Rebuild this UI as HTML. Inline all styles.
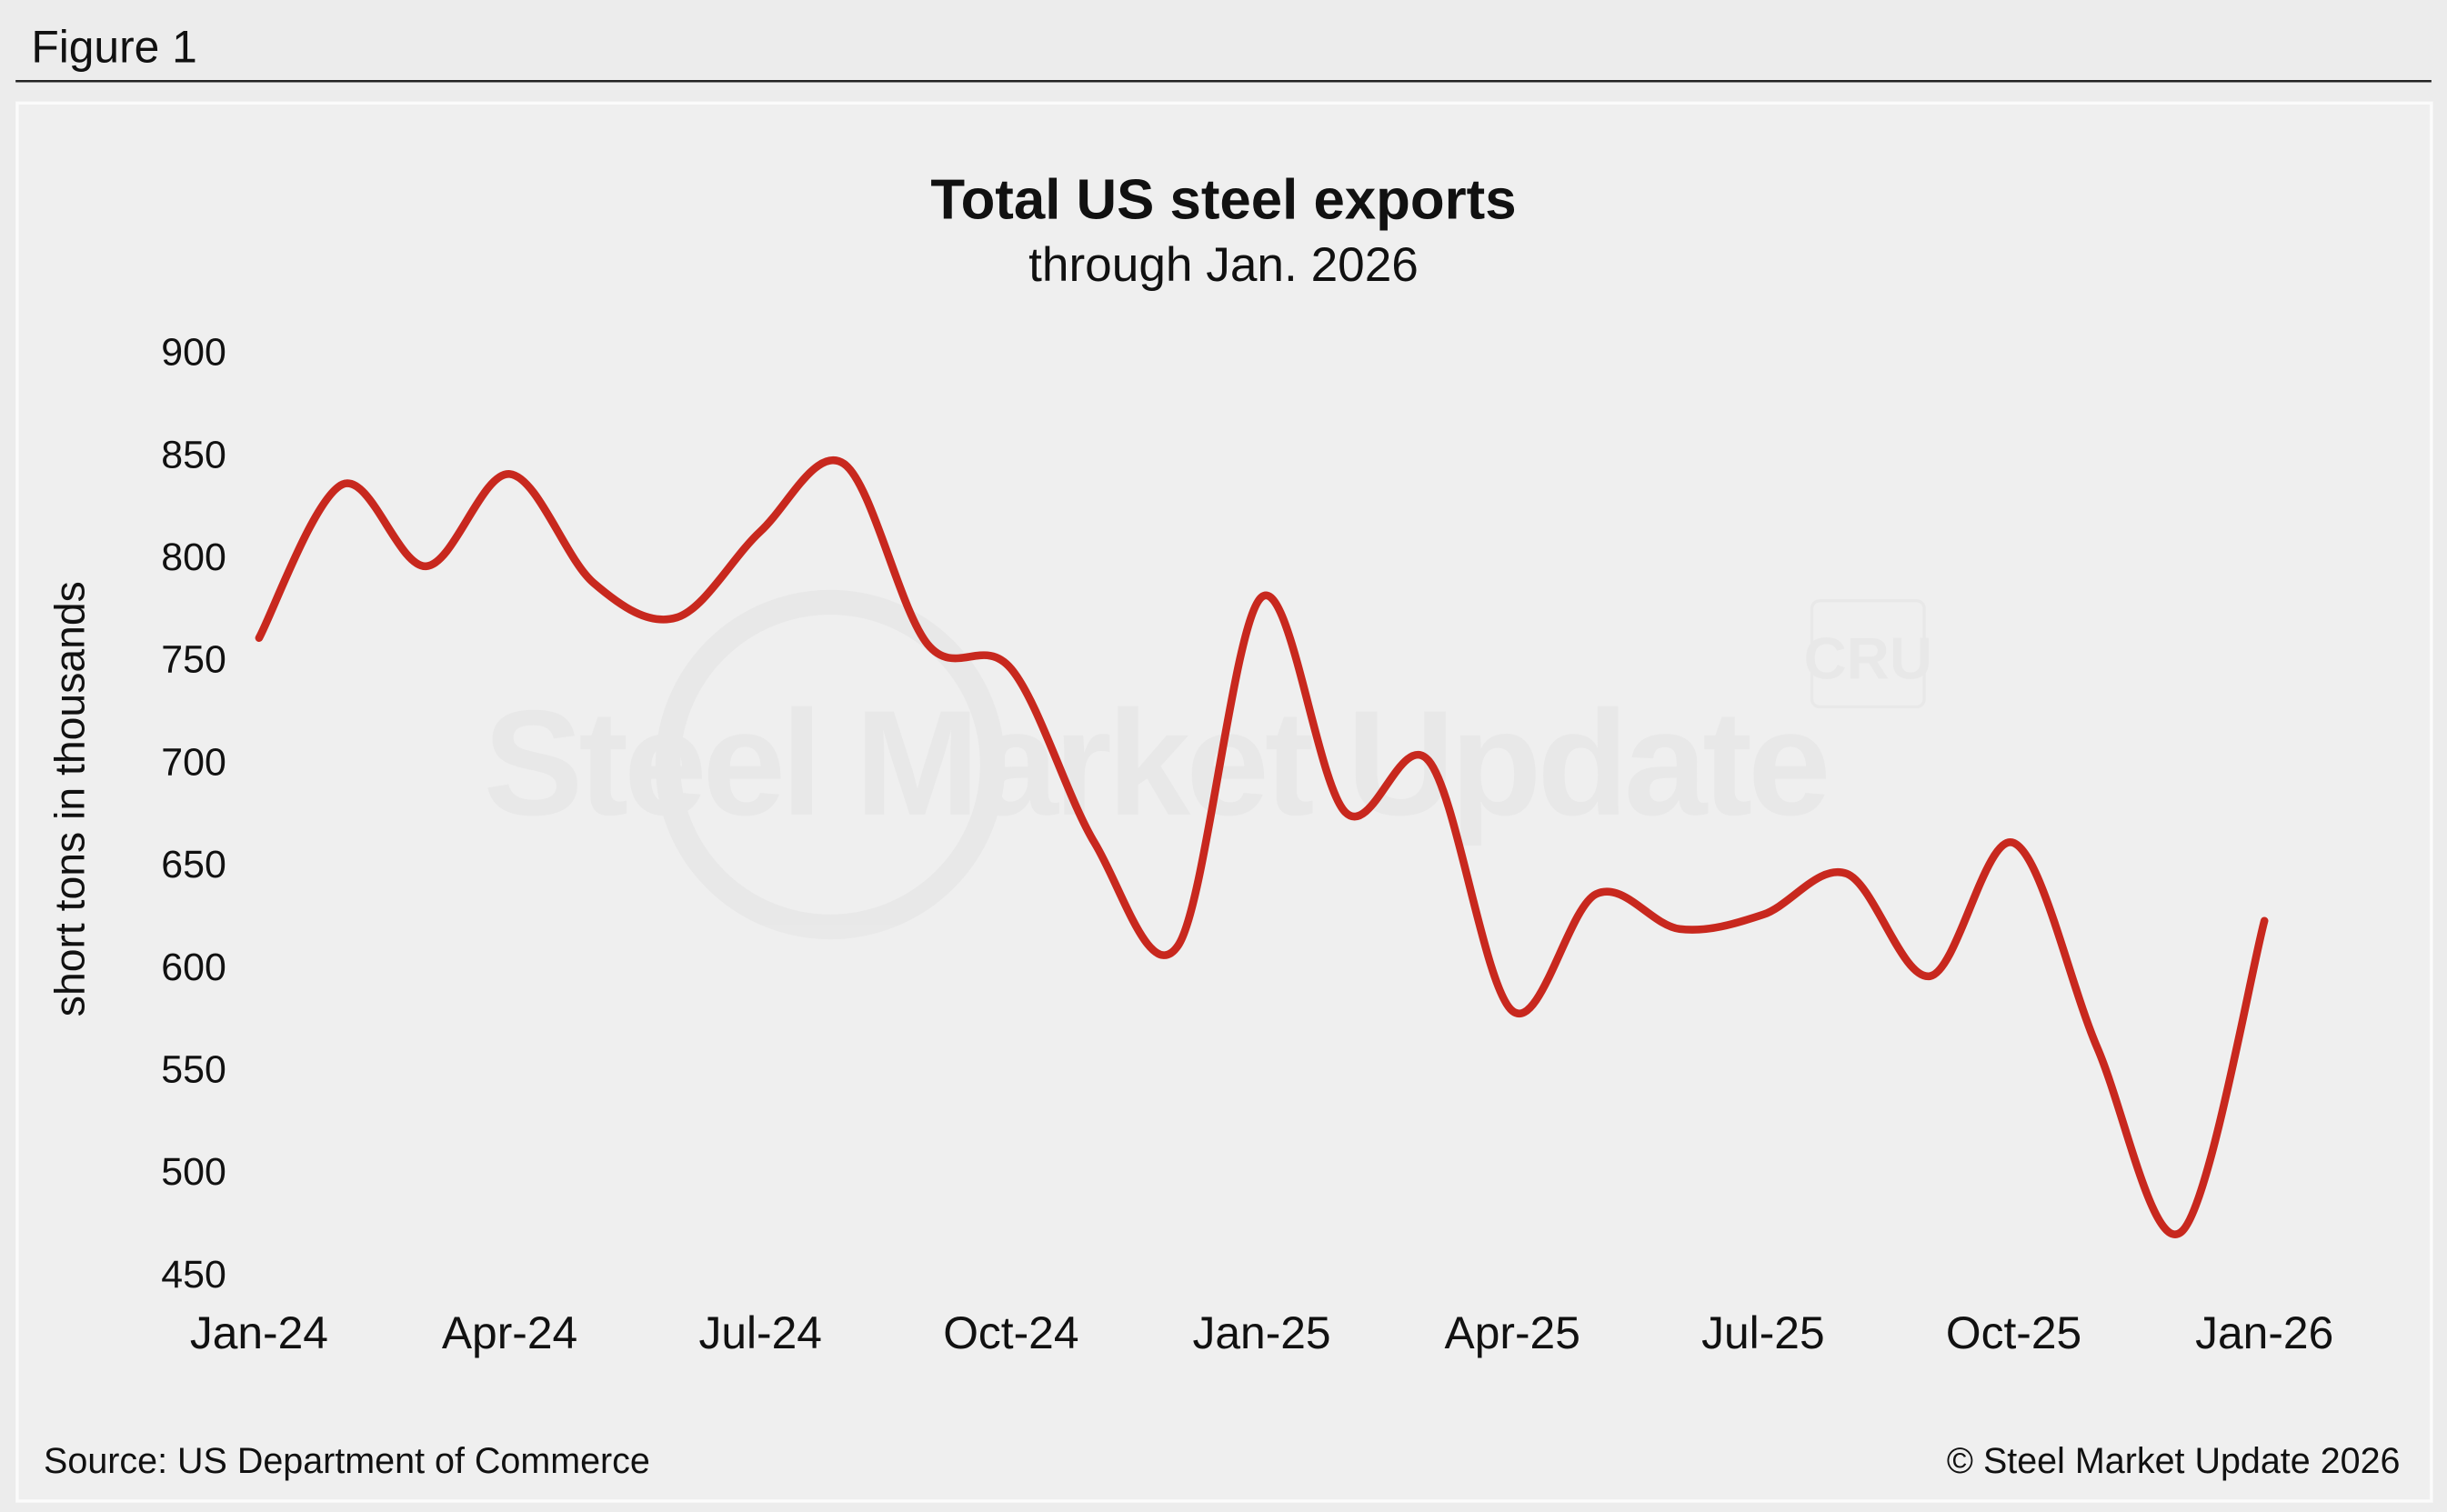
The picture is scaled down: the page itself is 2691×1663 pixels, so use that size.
<!DOCTYPE html>
<html><head><meta charset="utf-8"><style>
html,body{margin:0;padding:0;background:#efefef;}
svg{display:block;font-family:"Liberation Sans",Arial,sans-serif;}
</style></head><body>
<svg width="2691" height="1663" viewBox="0 0 1568 969" xmlns="http://www.w3.org/2000/svg">
<rect x="0" y="0" width="1568" height="969" fill="#ececec"/>
<text x="20" y="40" font-size="29" fill="#111">Figure 1</text>
<line x1="10" y1="52" x2="1558" y2="52" stroke="#222" stroke-width="1.5"/>
<rect x="11" y="66" width="1547" height="896" fill="#efefef" stroke="#fbfbfb" stroke-width="2"/>
<g opacity="0.4">
<circle cx="532" cy="490" r="104" fill="none" stroke="#e0e0e0" stroke-width="16"/>
<text x="740" y="522" font-size="96" font-weight="bold" fill="#e0e0e0" text-anchor="middle" letter-spacing="-3">Steel Market Update</text>
<rect x="1161" y="385" width="72" height="68" rx="5" fill="none" stroke="#e0e0e0" stroke-width="2"/>
<text x="1197" y="435" font-size="38" font-weight="bold" fill="#e0e0e0" text-anchor="middle">CRU</text>
</g>
<text x="784" y="140" font-size="36" font-weight="bold" text-anchor="middle" fill="#111">Total US steel exports</text>
<text x="784" y="180" font-size="31" text-anchor="middle" fill="#111">through Jan. 2026</text>
<text transform="translate(54,512) rotate(-90)" font-size="27" text-anchor="middle" fill="#111">short tons in thousands</text>
<g id="yticks"></g><g id="xticks"></g>
<path id="line" fill="none" stroke="#c8281e" stroke-width="5" stroke-linejoin="round" stroke-linecap="round"/>
<text x="28" y="944" font-size="23" fill="#111">Source: US Department of Commerce</text>
<text x="1538" y="944" font-size="23" text-anchor="end" fill="#111">© Steel Market Update 2026</text>
</svg>
<script>
const yTicks=[900,850,800,750,700,650,600,550,500,450];
const xLabels=["Jan-24","Apr-24","Jul-24","Oct-24","Jan-25","Apr-25","Jul-25","Oct-25","Jan-26"];
const xLabelIdx=[0,3,6,9,12,15,18,21,24];
const values=[760,835,795,840,787,770,812,845,757,745,660,610,780,675,700,578,635,618,625,645,595,660,560,470,622];
const NS="http://www.w3.org/2000/svg";
function xs(i){return 166+i*(1451-166)/24;}
function ys(v){return 816-(v-450)*(816-225)/450;}
const yg=document.getElementById('yticks');
yTicks.forEach(v=>{const t=document.createElementNS(NS,'text');


t.setAttribute('x',145);t.setAttribute('y',ys(v)+9);t.setAttribute('font-size','25');t.setAttribute('text-anchor','end');t.setAttribute('fill','#111');t.textContent=v;yg.appendChild(t);});
const xg=document.getElementById('xticks');
xLabels.forEach((l,k)=>{const t=document.createElementNS(NS,'text');


t.setAttribute('x',xs(xLabelIdx[k]));t.setAttribute('y',864);t.setAttribute('font-size','29');t.setAttribute('text-anchor','middle');t.setAttribute('fill','#111');t.textContent=l;xg.appendChild(t);});
const p=values.map((v,i)=>[xs(i),ys(v)]);
let d=`M${p[0][0]},${p[0][1]}`;
for(let i=0;i<p.length-1;i++){const p0=p[Math.max(i-1,0)],p1=p[i],p2=p[i+1],p3=p[Math.min(i+2,p.length-1)];
const c1=[p1[0]+(p2[0]-p0[0])/6,p1[1]+(p2[1]-p0[1])/6],c2=[p2[0]-(p3[0]-p1[0])/6,p2[1]-(p3[1]-p1[1])/6];
d+=` C${c1[0]},${c1[1]} ${c2[0]},${c2[1]} ${p2[0]},${p2[1]}`;}
document.getElementById('line').setAttribute('d',d);
</script>
</body></html>
